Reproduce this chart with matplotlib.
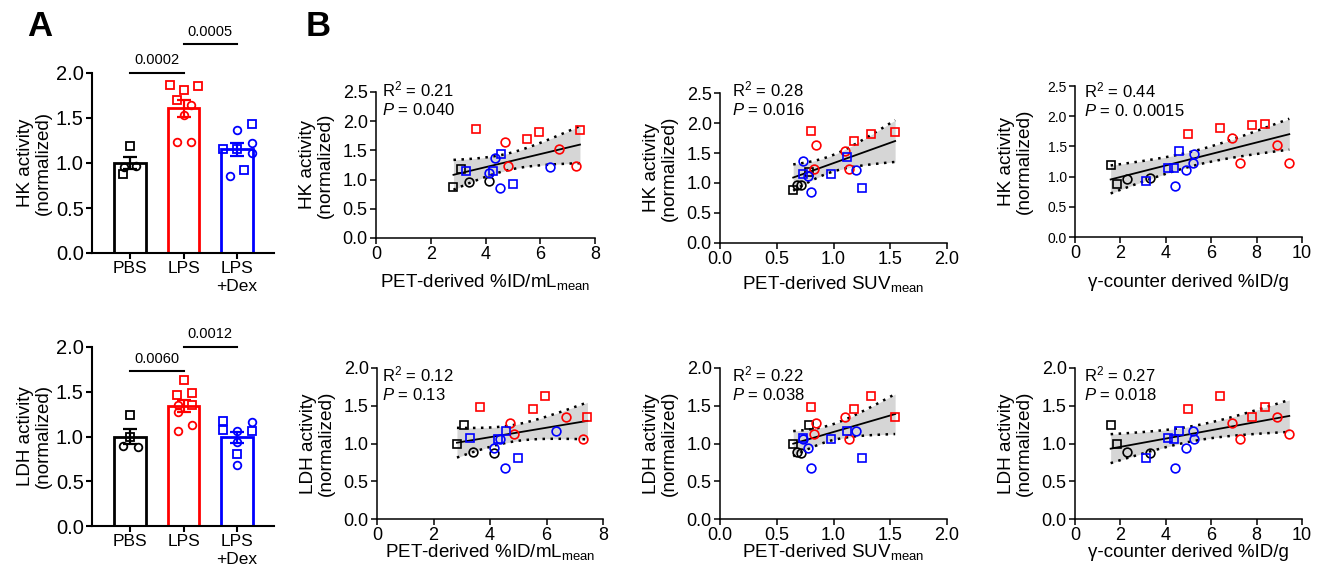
import numpy as np
import matplotlib
matplotlib.use("Agg")
import matplotlib.pyplot as plt

plt.rcParams["font.family"] = ["Liberation Sans", "DejaVu Sans"]
plt.rcParams["mathtext.fontset"] = "custom"
plt.rcParams["mathtext.rm"] = "Liberation Sans"
plt.rcParams["mathtext.it"] = "Liberation Sans:italic"
plt.rcParams["mathtext.bf"] = "Liberation Sans:bold"
plt.rcParams["mathtext.default"] = "regular"

# ---- data (one entry per animal) ----
groups = ["PBS"] * 4 + ["LPS"] * 8 + ["Dex"] * 8
markers = ["s", "s", "o", "o",
           "s", "s", "s", "s", "o", "o", "o", "o",
           "s", "s", "s", "s", "o", "o", "o", "o"]
pet_idml = [3.09, 2.83, 3.40, 4.13,
            3.65, 5.53, 5.96, 7.45, 4.71, 4.84, 6.70, 7.30,
            3.28, 4.29, 4.58, 4.99, 4.14, 4.36, 4.52, 6.35]
suv = [0.78, 0.645, 0.675, 0.71,
       0.80, 1.18, 1.334, 1.543, 0.845, 0.83, 1.10, 1.14,
       0.727, 0.974, 1.12, 1.252, 0.775, 0.733, 0.80, 1.20]
gamma = [1.57, 1.87, 2.28, 3.31,
         8.35, 4.99, 6.40, 7.78, 6.91, 9.44, 8.88, 7.25,
         4.09, 4.38, 4.59, 3.12, 4.90, 5.25, 4.41, 5.19]
hk = [1.19, 0.88, 0.96, 0.97,
      1.87, 1.70, 1.81, 1.85, 1.64, 1.23, 1.53, 1.23,
      1.15, 1.15, 1.43, 0.92, 1.11, 1.37, 0.85, 1.22]
ldh = [1.24, 0.99, 0.89, 0.88,
       1.49, 1.46, 1.63, 1.35, 1.27, 1.125, 1.35, 1.06,
       1.07, 1.06, 1.17, 0.81, 0.94, 1.06, 0.68, 1.16]

categories = ["PBS", "LPS", "LPS\n+Dex"]
group_keys = ["PBS", "LPS", "Dex"]
hk_pvals = ["0.0002", "0.0005"]
ldh_pvals = ["0.0060", "0.0012"]
r2_hk = ["0.21", "0.28", "0.44"]
p_hk = ["0.040", "0.016", "0. 0.0015"]
r2_ldh = ["0.12", "0.22", "0.27"]
p_ldh = ["0.13", "0.038", "0.018"]

# jitter of the dots inside each bar (category units)
hk_jitter = [0, -0.14, -0.11, 0.11,
             -0.26, -0.13, 0, 0.28, 0.145, -0.13, 0, 0.145,
             -0.26, 0, 0.28, 0.14, 0.28, 0, -0.13, 0.28]
ldh_jitter = [0, 0, -0.13, 0.14,
              0.16, -0.12, 0, 0.16, -0.11, 0.16, -0.11, -0.11,
              -0.26, 0.28, -0.26, 0, 0, 0, 0, 0.28]

colors = {"PBS": "black", "LPS": "#ff0000", "Dex": "#0000ff"}

W, H = 1320, 571
fig = plt.figure(figsize=(W / 100, H / 100), dpi=100)


def add_ax(l, t, r, b):
    return fig.add_axes([l / W, 1 - b / H, (r - l) / W, (b - t) / H])


def style_axes(ax, lw, tick_fs):
    for s in ["top", "right"]:
        ax.spines[s].set_visible(False)
    for s in ["left", "bottom"]:
        ax.spines[s].set_linewidth(lw)
    ax.tick_params(direction="out", length=4, width=lw, labelsize=tick_fs, pad=2)


def bar_panel(ax, vals, jitter, ylabel, pvals, bracket_y):
    for i, g in enumerate(group_keys):
        col = colors[g]
        idx = [k for k in range(len(groups)) if groups[k] == g]
        v = np.array([vals[k] for k in idx])
        m = v.mean()
        sem = v.std(ddof=1) / np.sqrt(len(v))
        ax.bar(i, m, width=0.6, facecolor="white", edgecolor=col, lw=2.0, zorder=2)
        ax.errorbar(i, m, yerr=sem, color=col, capsize=5, capthick=1.6,
                    elinewidth=1.6, zorder=3)
        for k in idx:
            ax.plot(i + jitter[k], vals[k], marker=markers[k], mfc="none", mec=col,
                    ms=5.5, mew=1.3, ls="none", zorder=4, clip_on=False)
    ax.set_xlim(-0.72, 2.7)
    ax.set_ylim(0, 2.0)
    ax.set_yticks([0, 0.5, 1.0, 1.5, 2.0])
    ax.set_yticklabels(["0.0", "0.5", "1.0", "1.5", "2.0"])
    ax.set_xticks([0, 1, 2])
    ax.set_xticklabels(categories)
    style_axes(ax, 1.5, 14.5)
    ax.tick_params(axis="x", labelsize=12.5)
    ax.set_ylabel(ylabel, fontsize=13.5, linespacing=1.1)
    ax.yaxis.set_label_coords(-40 / 182, 0.5)
    for (a, b), y, p in zip([(0, 1), (1, 2)], bracket_y, pvals):
        ax.plot([a, b], [y, y], color="black", lw=1.5, clip_on=False)
        ax.annotate(p, ((a + b) / 2, y), xytext=(0, 4), textcoords="offset points",
                    ha="center", va="bottom", fontsize=10.5, annotation_clip=False)


def scatter_panel(ax, x, y, box, xlim, xticks, xtl, yticks, xlabel, ylabel,
                  r2, p, text_px, xlab_gap, ytick_fs=13):
    l, t, r, b = box
    x = np.array(x)
    y = np.array(y)
    n = len(x)
    slope, icpt = np.polyfit(x, y, 1)
    xs = np.linspace(x.min(), x.max(), 100)
    fit = slope * xs + icpt
    resid = y - (slope * x + icpt)
    s = np.sqrt((resid ** 2).sum() / (n - 2))
    se = s * np.sqrt(1 / n + (xs - x.mean()) ** 2 / ((x - x.mean()) ** 2).sum())
    tval = 2.101
    ax.fill_between(xs, fit - tval * se, fit + tval * se, color="#d6d6d6", lw=0, zorder=1)
    ax.plot(xs, fit - tval * se, color="black", lw=1.8, ls=(0, (1, 2.2)), zorder=2)
    ax.plot(xs, fit + tval * se, color="black", lw=1.8, ls=(0, (1, 2.2)), zorder=2)
    ax.plot(xs, fit, color="black", lw=1.3, zorder=2)
    for k in range(n):
        ax.plot(x[k], y[k], marker=markers[k], mfc="none", mec=colors[groups[k]],
                ms=6.3, mew=1.2, ls="none", zorder=3, clip_on=False)
    ax.set_xlim(*xlim)
    ax.set_ylim(0, yticks[-1])
    ax.set_xticks(xticks)
    ax.set_xticklabels(xtl)
    ax.set_yticks(yticks)
    ax.set_yticklabels([f"{v:.1f}" for v in yticks])
    style_axes(ax, 1.1, 13)
    ax.tick_params(axis="y", labelsize=ytick_fs)
    ax.set_ylabel(ylabel, fontsize=13.7, linespacing=1.1)
    ax.yaxis.set_label_coords(-42 / (r - l), 0.5)
    ax.set_xlabel(xlabel, fontsize=13.5)
    ax.xaxis.set_label_coords(0.5, -xlab_gap / (b - t))
    fig.text(text_px[0] / W, 1 - text_px[1] / H,
             "R$^2$ = " + r2 + "\n$\\mathit{P}$ = " + p,
             ha="left", va="top", fontsize=12, linespacing=1.15)


# ---- panel A ----
ax_hk = add_ax(92, 73, 274, 253)
bar_panel(ax_hk, hk, hk_jitter, "HK activity\n(normalized)", hk_pvals, [2.0, 2.32])
ax_ldh = add_ax(92, 347, 274, 526)
bar_panel(ax_ldh, ldh, ldh_jitter, "LDH activity\n(normalized)", ldh_pvals, [1.73, 2.0])

# ---- panel B ----
xl_pet = "PET-derived %ID/mL$_{mean}$"
xl_suv = "PET-derived SUV$_{mean}$"
xl_gam = "\u03b3-counter derived %ID/g"
hk_lab = "HK activity\n(normalized)"
ldh_lab = "LDH activity\n(normalized)"
y_hk = [0, 0.5, 1.0, 1.5, 2.0, 2.5]
y_ldh = [0, 0.5, 1.0, 1.5, 2.0]
pet_t = ([0, 2, 4, 6, 8], ["0", "2", "4", "6", "8"])
suv_t = ([0, 0.5, 1.0, 1.5, 2.0], ["0.0", "0.5", "1.0", "1.5", "2.0"])
gam_t = ([0, 2, 4, 6, 8, 10], ["0", "2", "4", "6", "8", "10"])

box = (376, 92, 595, 238)
scatter_panel(add_ax(*box), pet_idml, hk, box, (0, 8), *pet_t, y_hk, xl_pet, hk_lab,
              r2_hk[0], p_hk[0], (382, 80), 34)
box = (720, 93, 947, 243)
scatter_panel(add_ax(*box), suv, hk, box, (0, 2), *suv_t, y_hk, xl_suv, hk_lab,
              r2_hk[1], p_hk[1], (732, 80), 31)
box = (1075, 86, 1302, 237)
scatter_panel(add_ax(*box), gamma, hk, box, (0, 10), *gam_t, y_hk, xl_gam, hk_lab,
              r2_hk[2], p_hk[2], (1084, 81), 37, ytick_fs=10)

box = (377, 368, 603, 519)
scatter_panel(add_ax(*box), pet_idml, ldh, box, (0, 8), *pet_t, y_ldh, xl_pet, ldh_lab,
              r2_ldh[0], p_ldh[0], (382, 365), 23)
box = (720, 368, 947, 519)
scatter_panel(add_ax(*box), suv, ldh, box, (0, 2), *suv_t, y_ldh, xl_suv, ldh_lab,
              r2_ldh[1], p_ldh[1], (732, 365), 23)
box = (1075, 368, 1302, 519)
scatter_panel(add_ax(*box), gamma, ldh, box, (0, 10), *gam_t, y_ldh, xl_gam, ldh_lab,
              r2_ldh[2], p_ldh[2], (1084, 365), 25)

fig.text(40 / W, 1 - 27 / H, "A", fontsize=25, fontweight="bold", ha="center", va="center")
fig.text(318 / W, 1 - 27 / H, "B", fontsize=25, fontweight="bold", ha="center", va="center")

fig.savefig("out.png", dpi=100)
